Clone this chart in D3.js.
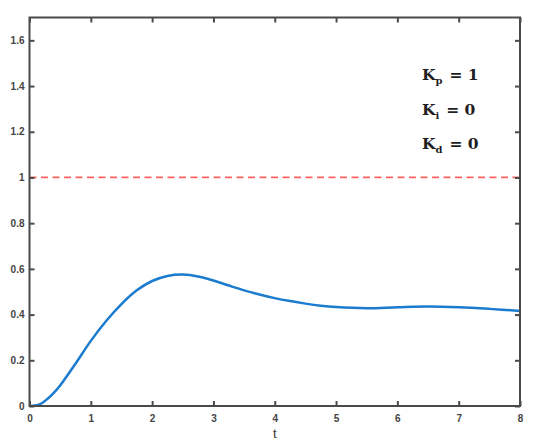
<!DOCTYPE html>
<html>
<head>
<meta charset="utf-8">
<script src="https://cdn.jsdelivr.net/npm/d3@7/dist/d3.min.js"></script>
<style>
  html, body { margin: 0; padding: 0; background: #fff; }
  svg { display: block; }
</style>
</head>
<body>
<svg id="chart" width="544" height="445"></svg>
<script>
// ---- data ----
const tValues = [0, 0.1, 0.2, 0.3, 0.4, 0.5, 0.75, 1, 1.25, 1.5, 1.75, 2, 2.25, 2.5, 2.75, 3, 3.25, 3.5, 3.75, 4, 4.25, 4.5, 4.75, 5, 5.5, 6, 6.5, 7, 7.5, 8];
const yValues = [0, 0.002, 0.012, 0.033, 0.059, 0.09, 0.185, 0.285, 0.372, 0.446, 0.506, 0.547, 0.569, 0.575, 0.567, 0.549, 0.527, 0.506, 0.488, 0.472, 0.459, 0.448, 0.439, 0.433, 0.428, 0.432, 0.435, 0.432, 0.425, 0.416];
const referenceLevel = 1;
const xTicks = [0, 1, 2, 3, 4, 5, 6, 7, 8];
const yTicks = [0, 0.2, 0.4, 0.6, 0.8, 1, 1.2, 1.4, 1.6];
const xDomain = [0, 8];
const yDomain = [0, 1.7];
const legendLines = [
  { main: "K", sub: "p", rest: " = 1" },
  { main: "K", sub: "i", rest: " = 0" },
  { main: "K", sub: "d", rest: " = 0" }
];
const xLabel = "t";

// ---- layout ----
const plotLeft = 29.5, plotRight = 520, plotTop = 17.5, plotBottom = 406;
const svg = d3.select("#chart");

const x = d3.scaleLinear().domain(xDomain).range([plotLeft, plotRight]);
const y = d3.scaleLinear().domain(yDomain).range([plotBottom, plotTop]);

const axisColor = "#4a4a4a";
const tickLen = 5;

// reference line
svg.append("line")
  .attr("x1", x(xDomain[0])).attr("x2", x(xDomain[1]))
  .attr("y1", y(referenceLevel)).attr("y2", y(referenceLevel))
  .attr("stroke", "#ff3a3a").attr("stroke-width", 1.7)
  .attr("stroke-opacity", 0.8)
  .attr("stroke-dasharray", "7,4.5");

// response curve
const pts = tValues.map((t, i) => [t, yValues[i]]);
svg.append("path")
  .datum(pts)
  .attr("fill", "none")
  .attr("stroke", "#1b7bcf")
  .attr("stroke-width", 2.5)
  .attr("stroke-linejoin", "round")
  .attr("d", d3.line().x(d => x(d[0])).y(d => y(d[1])).curve(d3.curveCatmullRom.alpha(0.5)));

// axes (ticks inward)
const fmt = d => String(+(+d).toFixed(1));
const gB = svg.append("g").attr("transform", `translate(0,${plotBottom})`)
  .call(d3.axisBottom(x).tickValues(xTicks).tickSizeInner(-tickLen).tickSizeOuter(0).tickPadding(9).tickFormat(fmt));
const gT = svg.append("g").attr("transform", `translate(0,${plotTop})`)
  .call(d3.axisTop(x).tickValues(xTicks).tickSizeInner(-tickLen).tickSizeOuter(0).tickFormat(""));
const gL = svg.append("g").attr("transform", `translate(${plotLeft},0)`)
  .call(d3.axisLeft(y).tickValues(yTicks).tickSizeInner(-tickLen).tickSizeOuter(0).tickPadding(5).tickFormat(fmt));
const gR = svg.append("g").attr("transform", `translate(${plotRight},0)`)
  .call(d3.axisRight(y).tickValues(yTicks).tickSizeInner(-tickLen).tickSizeOuter(0).tickFormat(""));

[gB, gT, gL, gR].forEach(g => {
  g.select(".domain").remove();
  g.selectAll(".tick line").attr("stroke", axisColor).attr("stroke-width", 2);
  g.selectAll(".tick text")
    .attr("fill", "#444")
    .attr("font-family", "Liberation Sans, Arial, sans-serif")
    .attr("font-size", 10)
    .attr("font-weight", "bold");
});

// box frame
svg.append("rect")
  .attr("x", plotLeft).attr("y", plotTop)
  .attr("width", plotRight - plotLeft).attr("height", plotBottom - plotTop)
  .attr("fill", "none").attr("stroke", axisColor).attr("stroke-width", 2);

// x label
svg.append("text")
  .attr("x", x(4)).attr("y", 438)
  .attr("text-anchor", "middle")
  .attr("font-family", "Liberation Sans, Arial, sans-serif")
  .attr("font-size", 13)
  .attr("fill", "#333")
  .text(xLabel);

// legend text
const legend = svg.append("g");
legendLines.forEach((l, i) => {
  const t = legend.append("text")
    .attr("x", 422).attr("y", 80 + i * 34.5)
    .attr("font-family", "'DejaVu Serif', serif")
    .attr("font-weight", "bold")
    .attr("font-size", 15.5)
    .attr("fill", "#1e1e1e");
  t.append("tspan").text(l.main);
  t.append("tspan").attr("font-size", 10).attr("dy", 4).text(l.sub);
  t.append("tspan").attr("dy", -4).attr("dx", 1.5).text(l.rest);
});
</script>
</body>
</html>
